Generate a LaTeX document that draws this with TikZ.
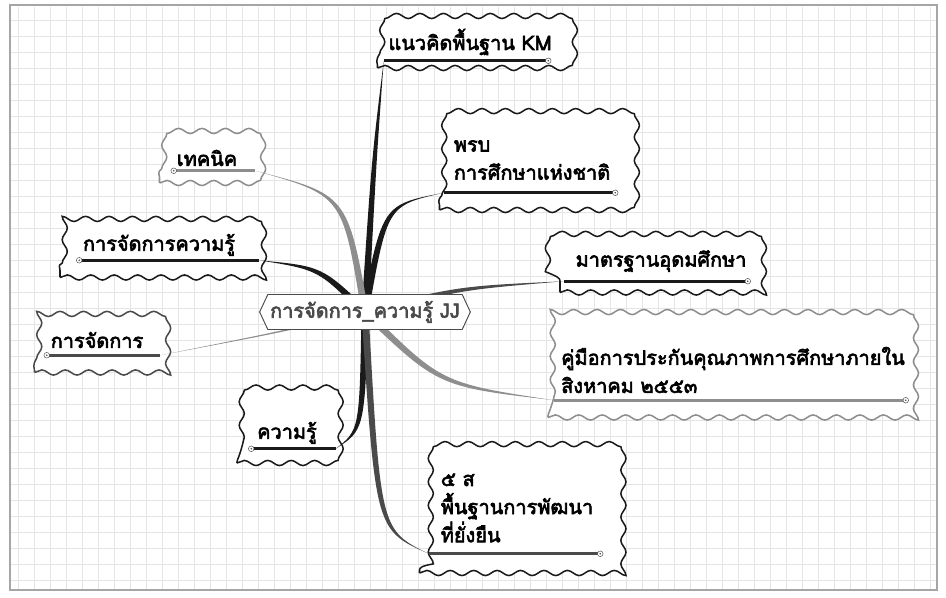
\documentclass[tikz,border=0pt]{standalone}
\usepackage{fontspec}
\newfontfamily\thaifont[Script=Thai,FakeBold=3]{Loma}
\usetikzlibrary{calc,positioning,shapes.symbols,decorations.pathmorphing}
\definecolor{inkx}{HTML}{1A1A1A}
\definecolor{greyx}{HTML}{8E8E8E}
\definecolor{darkx}{HTML}{4A4A4A}
\definecolor{gridx}{HTML}{E4E4E4}
\newdimen\pxu \pxu=0.03cm
\pgfdeclarelayer{back}\pgfdeclarelayer{mid}\pgfsetlayers{back,mid,main}
\tikzset{
  topic/.style={draw=#1,line width=1.3pt,fill=white,decorate,decoration={snake,amplitude=2.2pt,segment length=20pt},align=left,font=\thaifont\fontsize{17}{24}\selectfont,inner sep=0pt},
  topic/.default=inkx,
  hub/.style={draw=darkx,thick,fill=white,signal,signal to=west and east,signal pointer angle=130,font=\thaifont\fontsize{17}{20}\selectfont,text=darkx,minimum height=35\pxu,minimum width=203\pxu,inner xsep=2pt},
  uline/.style={line width=2.2pt,#1},
  tip/.style={draw=darkx,fill=white,thin}
}
\begin{document}
\begin{tikzpicture}[x=0.03cm,y=-0.03cm]
\useasboundingbox (0,0) rectangle (946,598);
\begin{pgfonlayer}{back}
\foreach \gx in {18,34,...,930}{\draw[gridx,thin] (\gx,7) -- (\gx,589);}
\foreach \gy in {20,36,...,580}{\draw[gridx,thin] (11,\gy) -- (936,\gy);}
\draw[gray!70,line width=1.2pt] (10,5) rectangle (937,590);
\node[topic,minimum width=185\pxu,minimum height=52\pxu] (km) at (470,42) {แนวคิดพื้นฐาน KM};
\node[topic,minimum width=185\pxu,minimum height=100\pxu] (prb) at (532,160) {พรบ\\การศึกษาแห่งชาติ};
\node[topic=greyx,minimum width=95\pxu,minimum height=50\pxu] (tech) at (207,158) {เทคนิค};
\node[topic,minimum width=198\pxu,minimum height=65\pxu] (kmgt) at (159,245) {การจัดการความรู้};
\node[topic=darkx,minimum width=125\pxu,minimum height=65\pxu] (mgt) at (97,340) {การจัดการ};
\node[topic,minimum width=202\pxu,minimum height=63\pxu] (std) at (661,261) {มาตรฐานอุดมศึกษา};
\node[topic=greyx,minimum width=370\pxu,minimum height=95\pxu] (man) at (733,370) {คู่มือการประกันคุณภาพการศึกษาภายใน\\สิงหาคม ๒๕๕๓};
\node[topic,minimum width=100\pxu,minimum height=60\pxu] (know) at (287,433) {ความรู้};
\node[topic,minimum width=195\pxu,minimum height=130\pxu] (five) at (517,508) {๕ ส\\พื้นฐานการพัฒนา\\ที่ยั่งยืน};
\end{pgfonlayer}
\node[hub] (cen) at (365,312) {การจัดการ\_ความรู้ JJ};
\foreach \n/\dy/\lx/\rx/\col in {km/8/7/15/inkx,prb/18/5/10/inkx,tech/13/15/0/greyx,kmgt/18/20/0/inkx,mgt/18/13/0/darkx,std/12/5/15/inkx,man/18/7/13/greyx,know/15/15/2/inkx,five/20/10/15/darkx}
  {\draw[uline=\col] ($(\n.south west)+(\lx,-\dy)$) coordinate (\n-lt) -- ($(\n.south east)+(-\rx,-\dy)$) coordinate (\n-rt);}
\foreach \e in {km-rt,prb-rt,tech-lt,kmgt-lt,mgt-lt,std-rt,man-rt,know-lt,five-rt}
  {\draw[tip] (\e) circle (2.4pt); \fill[darkx] (\e) circle (0.8pt);}
\begin{pgfonlayer}{mid}
\foreach \e/\cx/\cy/\col/\w in {km-lt/374/160/inkx/3pt,prb-lt/385/205/inkx/3pt,tech-rt/345/195/greyx/3pt,kmgt-rt/320/268/inkx/3pt,mgt-rt/280/332/greyx/0.9pt,std-lt/460/288/darkx/2.4pt,man-lt/440/385/greyx/3pt,know-rt/362/430/inkx/3pt,five-lt/378/530/darkx/3pt}
  {\fill[\col] ($(cen)!\w!90:(\cx,\cy)$) .. controls ($(\cx,\cy)!0.7*\w!-90:(cen)$) .. (\e)
     .. controls ($(\cx,\cy)!0.7*\w!90:(cen)$) .. ($(cen)!\w!-90:(\cx,\cy)$) -- cycle;}
\end{pgfonlayer}
\end{tikzpicture}
\end{document}
